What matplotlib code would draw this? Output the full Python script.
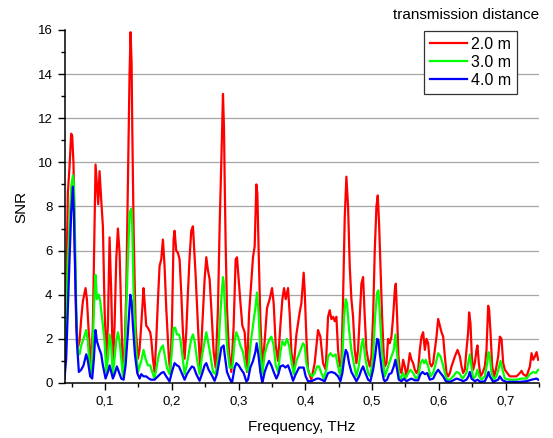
import matplotlib
matplotlib.use('Agg')
import matplotlib.pyplot as plt
from matplotlib.ticker import MultipleLocator, FuncFormatter

plt.rcParams['font.family'] = ['Liberation Sans', 'DejaVu Sans']

# SNR espectros (frecuencia en THz)
f_2m = [0.0393, 0.0418, 0.0443, 0.0468, 0.0493, 0.0508, 0.0528, 0.0543, 0.0568, 0.0593,
        0.0618, 0.0643, 0.0668, 0.0708, 0.0728, 0.0758, 0.0793, 0.0818, 0.0843, 0.0858,
        0.0878, 0.0898, 0.0918, 0.0943, 0.0968, 0.0993, 0.1018, 0.1043, 0.1068, 0.1093,
        0.1118, 0.1143, 0.1168, 0.1193, 0.1218, 0.1243, 0.1268, 0.1293, 0.1318, 0.1343,
        0.1368, 0.1383, 0.1398, 0.1408, 0.1428, 0.1458, 0.1493, 0.1517, 0.1542, 0.1577,
        0.1592, 0.1617, 0.1642, 0.1677, 0.1692, 0.1717, 0.1742, 0.1767, 0.1792, 0.1817,
        0.1842, 0.1867, 0.1892, 0.1917, 0.1957, 0.1977, 0.2002, 0.2027, 0.2042, 0.2067,
        0.2092, 0.2117, 0.2142, 0.2167, 0.2192, 0.2217, 0.2242, 0.2267, 0.2292, 0.2317,
        0.2332, 0.2357, 0.2392, 0.2427, 0.2457, 0.2492, 0.2517, 0.2542, 0.2567, 0.2592,
        0.2627, 0.2657, 0.2692, 0.2717, 0.2742, 0.2767, 0.2782, 0.2792, 0.2807, 0.2827,
        0.2857, 0.2892, 0.2927, 0.2957, 0.2977, 0.2997, 0.3027, 0.3057, 0.3092, 0.3127,
        0.3157, 0.3192, 0.3217, 0.3242, 0.3267, 0.3282, 0.3302, 0.3327, 0.3357, 0.3392,
        0.3427, 0.3467, 0.3502, 0.3527, 0.3557, 0.3592, 0.3627, 0.3657, 0.3682, 0.3707,
        0.3742, 0.3767, 0.3792, 0.3827, 0.3867, 0.3916, 0.3941, 0.3976, 0.3991, 0.4016,
        0.4041, 0.4091, 0.4141, 0.4191, 0.4226, 0.4266, 0.4306, 0.4341, 0.4366, 0.4391,
        0.4416, 0.4441, 0.4466, 0.4491, 0.4516, 0.4541, 0.4566, 0.4591, 0.4616, 0.4641,
        0.4666, 0.4691, 0.4716, 0.4741, 0.4766, 0.4791, 0.4816, 0.4841, 0.4866, 0.4891,
        0.4916, 0.4941, 0.4966, 0.4991, 0.5016, 0.5041, 0.5066, 0.5086, 0.5106, 0.5126,
        0.5151, 0.5176, 0.5191, 0.5216, 0.5241, 0.5266, 0.5291, 0.5316, 0.5341, 0.5356,
        0.5376, 0.5396, 0.5416, 0.5441, 0.5466, 0.5491, 0.5516, 0.5541, 0.5566, 0.5591,
        0.5616, 0.5641, 0.5666, 0.5691, 0.5716, 0.5741, 0.5766, 0.5791, 0.5816, 0.5841,
        0.5866, 0.5891, 0.5916, 0.5941, 0.5966, 0.5991, 0.6016, 0.6041, 0.6066, 0.6091,
        0.6116, 0.6141, 0.6166, 0.6191, 0.6241, 0.6281, 0.6316, 0.6341, 0.6365, 0.6390,
        0.6415, 0.6440, 0.6455, 0.6475, 0.6495, 0.6515, 0.6540, 0.6565, 0.6580, 0.6600,
        0.6625, 0.6655, 0.6690, 0.6715, 0.6740, 0.6755, 0.6775, 0.6800, 0.6830, 0.6855,
        0.6890, 0.6915, 0.6940, 0.6965, 0.6990, 0.7025, 0.7065, 0.7115, 0.7165, 0.7215,
        0.7240, 0.7265, 0.7315, 0.7365, 0.7390, 0.7415, 0.7440, 0.7465, 0.7490]
snr_2m = [1.1, 4.0, 8.6, 9.8, 11.3, 11.2, 9.9, 7.0, 2.6, 1.6,
          1.9, 2.9, 3.7, 4.3, 3.8, 2.2, 0.7, 2.6, 7.1, 9.9,
          9.0, 8.1, 9.6, 8.3, 7.1, 3.4, 1.1, 2.6, 6.6, 4.1,
          0.8, 2.6, 5.6, 7.0, 5.9, 3.1, 0.5, 1.4, 4.1, 9.2,
          14.1, 15.9, 14.5, 11.6, 7.0, 2.6, 1.1, 1.5, 2.6, 4.3,
          3.7, 2.6, 2.5, 2.3, 2.0, 1.1, 0.5, 1.9, 3.7, 5.3,
          5.6, 6.5, 5.3, 3.4, 1.1, 0.5, 2.6, 6.5, 6.9, 6.0,
          5.9, 5.6, 4.1, 2.3, 1.1, 2.3, 4.1, 5.7, 6.9, 7.1,
          6.3, 4.9, 2.6, 0.5, 2.6, 4.7, 5.7, 5.1, 4.7, 3.4,
          1.4, 0.7, 3.4, 7.1, 10.0, 13.1, 11.6, 9.3, 6.3, 3.4,
          1.4, 0.5, 2.6, 5.6, 5.7, 4.9, 3.7, 2.6, 2.3, 0.5,
          3.1, 4.6, 5.7, 6.2, 9.0, 8.6, 5.9, 2.9, 0.7, 1.9,
          3.4, 3.8, 4.3, 3.6, 1.7, 1.0, 2.6, 3.8, 4.3, 3.8,
          4.3, 3.1, 1.4, 0.7, 2.2, 3.2, 3.6, 5.0, 4.2, 2.1,
          0.6, 0.15, 0.9, 2.4, 2.1, 0.9, 0.6, 3.0, 3.3, 2.9,
          3.0, 2.8, 3.0, 1.5, 0.75, 0.9, 3.8, 7.5, 9.35, 8.0,
          5.3, 3.8, 3.0, 1.5, 0.9, 1.5, 3.0, 4.5, 4.8, 3.0,
          1.5, 1.05, 0.75, 1.2, 3.0, 6.0, 8.0, 8.5, 7.2, 5.3,
          3.0, 1.2, 0.75, 0.9, 2.0, 1.8, 2.1, 3.0, 4.2, 4.5,
          3.0, 1.2, 0.6, 0.45, 1.05, 0.75, 0.3, 0.75, 1.35, 1.05,
          0.9, 0.6, 0.45, 0.6, 1.5, 2.1, 2.3, 1.5, 2.0, 1.8,
          0.9, 0.75, 0.9, 1.5, 2.1, 2.9, 2.6, 2.3, 2.1, 1.2,
          0.45, 0.3, 0.45, 0.75, 1.2, 1.5, 1.2, 0.75, 0.45, 0.6,
          1.5, 2.3, 3.2, 2.7, 1.2, 0.6, 0.9, 1.5, 1.7, 0.9,
          0.3, 0.45, 0.75, 1.5, 3.5, 3.3, 2.3, 0.75, 0.3, 0.6,
          1.2, 2.1, 2.0, 0.9, 0.6, 0.45, 0.3, 0.3, 0.3, 0.45,
          0.55, 0.4, 0.3, 0.75, 1.35, 1.05, 1.2, 1.4, 1.05]

f_3m = [0.0393, 0.0418, 0.0443, 0.0468, 0.0493, 0.0518, 0.0533, 0.0548, 0.0568, 0.0593,
        0.0618, 0.0643, 0.0678, 0.0718, 0.0743, 0.0768, 0.0793, 0.0818, 0.0843, 0.0858,
        0.0878, 0.0908, 0.0928, 0.0958, 0.0993, 0.1018, 0.1043, 0.1068, 0.1093, 0.1118,
        0.1143, 0.1168, 0.1193, 0.1218, 0.1243, 0.1268, 0.1293, 0.1318, 0.1343, 0.1368,
        0.1393, 0.1408, 0.1428, 0.1458, 0.1493, 0.1543, 0.1577, 0.1607, 0.1642, 0.1677,
        0.1707, 0.1742, 0.1777, 0.1807, 0.1842, 0.1867, 0.1892, 0.1927, 0.1967, 0.1992,
        0.2027, 0.2052, 0.2077, 0.2107, 0.2127, 0.2157, 0.2192, 0.2217, 0.2257, 0.2292,
        0.2317, 0.2342, 0.2377, 0.2417, 0.2457, 0.2492, 0.2517, 0.2542, 0.2577, 0.2617,
        0.2657, 0.2692, 0.2717, 0.2742, 0.2767, 0.2777, 0.2797, 0.2827, 0.2867, 0.2907,
        0.2942, 0.2967, 0.2992, 0.3027, 0.3067, 0.3107, 0.3142, 0.3177, 0.3217, 0.3252,
        0.3277, 0.3302, 0.3327, 0.3357, 0.3392, 0.3427, 0.3467, 0.3492, 0.3527, 0.3557,
        0.3592, 0.3627, 0.3657, 0.3692, 0.3727, 0.3757, 0.3792, 0.3827, 0.3867, 0.3917,
        0.3967, 0.3991, 0.4016, 0.4056, 0.4106, 0.4141, 0.4176, 0.4206, 0.4241, 0.4276,
        0.4316, 0.4341, 0.4376, 0.4416, 0.4456, 0.4491, 0.4526, 0.4556, 0.4581, 0.4606,
        0.4626, 0.4656, 0.4691, 0.4726, 0.4766, 0.4801, 0.4841, 0.4866, 0.4896, 0.4941,
        0.4976, 0.5016, 0.5046, 0.5076, 0.5096, 0.5116, 0.5146, 0.5176, 0.5191, 0.5226,
        0.5256, 0.5291, 0.5326, 0.5351, 0.5376, 0.5401, 0.5426, 0.5466, 0.5501, 0.5541,
        0.5576, 0.5616, 0.5656, 0.5691, 0.5726, 0.5756, 0.5781, 0.5806, 0.5841, 0.5876,
        0.5916, 0.5956, 0.5991, 0.6026, 0.6056, 0.6091, 0.6126, 0.6166, 0.6216, 0.6266,
        0.6306, 0.6356, 0.6415, 0.6440, 0.6465, 0.6490, 0.6515, 0.6550, 0.6580, 0.6605,
        0.6640, 0.6690, 0.6725, 0.6745, 0.6765, 0.6790, 0.6825, 0.6865, 0.6905, 0.6925,
        0.6955, 0.6990, 0.7065, 0.7165, 0.7240, 0.7315, 0.7365, 0.7415, 0.7455, 0.7490]
snr_3m = [0.5, 2.6, 5.6, 7.1, 8.9, 9.4, 9.0, 7.1, 3.4, 1.3,
          1.3, 1.7, 2.0, 2.4, 1.9, 0.8, 0.4, 1.9, 4.1, 4.9,
          3.8, 4.0, 3.7, 2.9, 1.9, 0.5, 1.1, 2.2, 1.7, 0.4,
          1.1, 1.9, 2.3, 1.9, 1.1, 0.3, 1.1, 3.4, 5.6, 7.7,
          7.9, 7.1, 4.1, 1.9, 0.5, 1.0, 1.5, 1.1, 0.8, 0.8,
          0.5, 0.2, 0.8, 1.3, 1.6, 1.7, 1.3, 0.7, 0.4, 1.1,
          2.5, 2.5, 2.2, 2.2, 2.0, 1.3, 0.4, 0.7, 1.4, 2.0,
          2.2, 1.9, 1.1, 0.4, 1.3, 1.9, 2.3, 1.9, 1.3, 0.5,
          0.4, 1.1, 2.6, 3.8, 4.8, 4.6, 3.4, 1.7, 0.7, 0.7,
          1.9, 2.3, 2.1, 1.7, 1.4, 0.7, 0.5, 1.7, 2.6, 3.4,
          4.1, 3.1, 1.4, 0.4, 1.3, 1.7, 2.0, 2.1, 1.7, 0.8,
          0.5, 1.4, 1.9, 1.7, 2.0, 1.7, 1.0, 0.4, 1.0, 1.4,
          1.8, 1.7, 0.9, 0.45, 0.3, 0.45, 0.75, 0.75, 0.45, 0.2,
          0.6, 1.2, 1.35, 1.2, 1.3, 0.75, 0.3, 1.2, 3.0, 3.8,
          3.6, 2.4, 1.5, 0.9, 0.3, 0.75, 1.7, 2.0, 1.2, 0.45,
          0.3, 1.2, 3.0, 4.1, 4.2, 3.2, 1.5, 0.75, 0.3, 0.6,
          0.9, 1.2, 1.5, 2.2, 1.35, 0.45, 0.15, 0.45, 0.2, 0.45,
          0.6, 0.45, 0.2, 0.3, 0.9, 1.05, 0.9, 1.05, 0.75, 0.3,
          0.45, 0.9, 1.35, 1.2, 0.9, 0.45, 0.15, 0.15, 0.3, 0.5,
          0.45, 0.2, 0.45, 0.9, 1.3, 0.75, 0.2, 0.3, 0.6, 0.3,
          0.15, 0.3, 0.9, 1.4, 1.2, 0.45, 0.15, 0.3, 0.75, 1.0,
          0.6, 0.2, 0.15, 0.15, 0.2, 0.2, 0.4, 0.5, 0.45, 0.6]

f_4m = [0.0393, 0.0418, 0.0443, 0.0468, 0.0493, 0.0518, 0.0533, 0.0553, 0.0578, 0.0608,
        0.0643, 0.0678, 0.0718, 0.0743, 0.0778, 0.0808, 0.0833, 0.0858, 0.0878, 0.0908,
        0.0943, 0.0968, 0.1008, 0.1043, 0.1068, 0.1093, 0.1118, 0.1143, 0.1178, 0.1208,
        0.1243, 0.1278, 0.1308, 0.1343, 0.1378, 0.1398, 0.1418, 0.1448, 0.1483, 0.1518,
        0.1542, 0.1577, 0.1617, 0.1657, 0.1692, 0.1742, 0.1792, 0.1842, 0.1877, 0.1917,
        0.1967, 0.2002, 0.2042, 0.2077, 0.2107, 0.2142, 0.2192, 0.2227, 0.2267, 0.2302,
        0.2332, 0.2367, 0.2417, 0.2457, 0.2492, 0.2517, 0.2552, 0.2592, 0.2642, 0.2677,
        0.2717, 0.2742, 0.2777, 0.2792, 0.2827, 0.2867, 0.2902, 0.2942, 0.2967, 0.3002,
        0.3042, 0.3077, 0.3117, 0.3142, 0.3177, 0.3217, 0.3252, 0.3272, 0.3297, 0.3327,
        0.3357, 0.3392, 0.3427, 0.3457, 0.3492, 0.3527, 0.3567, 0.3597, 0.3627, 0.3667,
        0.3702, 0.3742, 0.3777, 0.3817, 0.3857, 0.3907, 0.3976, 0.4006, 0.4041, 0.4091,
        0.4141, 0.4176, 0.4206, 0.4241, 0.4291, 0.4341, 0.4391, 0.4441, 0.4491, 0.4526,
        0.4556, 0.4581, 0.4606, 0.4631, 0.4656, 0.4691, 0.4726, 0.4766, 0.4806, 0.4841,
        0.4866, 0.4901, 0.4941, 0.4976, 0.5016, 0.5046, 0.5076, 0.5096, 0.5116, 0.5146,
        0.5176, 0.5191, 0.5226, 0.5256, 0.5291, 0.5326, 0.5351, 0.5376, 0.5401, 0.5441,
        0.5476, 0.5516, 0.5556, 0.5591, 0.5641, 0.5691, 0.5726, 0.5756, 0.5791, 0.5826,
        0.5866, 0.5916, 0.5956, 0.5991, 0.6026, 0.6066, 0.6106, 0.6166, 0.6216, 0.6266,
        0.6316, 0.6366, 0.6415, 0.6445, 0.6465, 0.6490, 0.6540, 0.6580, 0.6625, 0.6690,
        0.6725, 0.6745, 0.6765, 0.6815, 0.6890, 0.6915, 0.6955, 0.7015, 0.7115, 0.7215,
        0.7315, 0.7390, 0.7440, 0.7465, 0.7490]
snr_4m = [0.2, 1.1, 3.4, 5.6, 7.7, 8.9, 7.7, 4.9, 1.9, 0.5,
          0.6, 0.8, 1.3, 1.0, 0.3, 0.2, 1.1, 2.4, 1.9, 1.6,
          1.3, 0.8, 0.2, 0.5, 0.8, 0.5, 0.2, 0.4, 0.75, 0.5,
          0.2, 0.15, 0.8, 2.3, 4.0, 3.7, 2.6, 1.3, 0.45, 0.2,
          0.4, 0.3, 0.3, 0.2, 0.15, 0.15, 0.3, 0.45, 0.5, 0.3,
          0.07, 0.5, 0.9, 0.8, 0.75, 0.5, 0.15, 0.4, 0.6, 0.75,
          0.7, 0.4, 0.1, 0.45, 0.8, 0.9, 0.6, 0.4, 0.1, 0.4,
          1.1, 1.6, 1.7, 1.3, 0.5, 0.2, 0.0, 0.7, 0.9, 0.8,
          0.6, 0.45, 0.07, 0.15, 0.7, 1.0, 1.4, 1.8, 1.3, 0.5,
          0.0, 0.5, 0.8, 1.0, 0.8, 0.5, 0.2, 0.4, 0.75, 0.8,
          0.7, 0.8, 0.5, 0.1, 0.4, 0.7, 0.7, 0.3, 0.08, 0.08,
          0.15, 0.2, 0.2, 0.15, 0.08, 0.45, 0.5, 0.45, 0.3, 0.08,
          0.45, 1.05, 1.5, 1.35, 0.9, 0.5, 0.3, 0.08, 0.3, 0.6,
          0.75, 0.45, 0.15, 0.08, 0.6, 1.2, 2.0, 1.95, 1.35, 0.6,
          0.15, 0.08, 0.15, 0.4, 0.45, 0.75, 1.05, 0.6, 0.15, 0.08,
          0.2, 0.08, 0.15, 0.2, 0.12, 0.12, 0.4, 0.5, 0.4, 0.45,
          0.15, 0.2, 0.45, 0.6, 0.45, 0.3, 0.08, 0.05, 0.12, 0.2,
          0.15, 0.08, 0.15, 0.3, 0.5, 0.2, 0.08, 0.15, 0.05, 0.08,
          0.3, 0.5, 0.3, 0.05, 0.15, 0.3, 0.12, 0.05, 0.05, 0.05,
          0.08, 0.15, 0.18, 0.2, 0.15]

etiquetas = ['2.0 m', '3.0 m', '4.0 m']
colores = ['#ff0000', '#00ff00', '#0000ff']
lineas_grid = [2, 4, 6, 8, 10, 12, 14]


def coma(v, pos):
    # decimales con coma como en el original
    if abs(v - round(v)) < 1e-9:
        return '%d' % round(v)
    return ('%.1f' % v).replace('.', ',')


fig = plt.figure(figsize=(5.53, 4.38), dpi=100)
ax = fig.add_axes([0.1175, 0.1256, 0.857, 0.806])

for y in lineas_grid:
    ax.axhline(y, color='#a6a6a6', lw=0.9, zorder=0)

series = [(f_2m, snr_2m), (f_3m, snr_3m), (f_4m, snr_4m)]
for (f, s), lab, col in zip(series, etiquetas, colores):
    ax.plot(f, s, color=col, lw=1.6, label=lab)

ax.set_xlim(0.04, 0.75)
ax.set_ylim(0, 16)
ax.xaxis.set_major_locator(MultipleLocator(0.1))
ax.xaxis.set_minor_locator(MultipleLocator(0.05))
ax.yaxis.set_major_locator(MultipleLocator(2))
ax.yaxis.set_minor_locator(MultipleLocator(1))
ax.xaxis.set_major_formatter(FuncFormatter(coma))
ax.yaxis.set_major_formatter(FuncFormatter(coma))

ax.spines['top'].set_visible(False)
ax.spines['right'].set_visible(False)
ax.spines['left'].set_linewidth(1.1)
ax.spines['bottom'].set_linewidth(1.1)
ax.tick_params(which='major', direction='out', length=5, width=1.0, labelsize=9.5, pad=4)
ax.tick_params(which='minor', direction='out', length=3, width=1.0)

ax.set_xlabel('Frequency, THz', fontsize=11, labelpad=9)
ax.set_ylabel('SNR', fontsize=11, labelpad=7)

leg = ax.legend(loc='upper right', bbox_to_anchor=(0.954, 0.997), borderaxespad=0,
                fontsize=11.5, handlelength=2.3, handletextpad=0.3, labelspacing=0.2,
                borderpad=0.35, fancybox=False, framealpha=1, edgecolor='#333333')
leg.get_frame().set_linewidth(0.9)

fig.text(0.843, 0.966, 'transmission distance', ha='center', va='center', fontsize=11)

plt.savefig('out.png', dpi=100)
